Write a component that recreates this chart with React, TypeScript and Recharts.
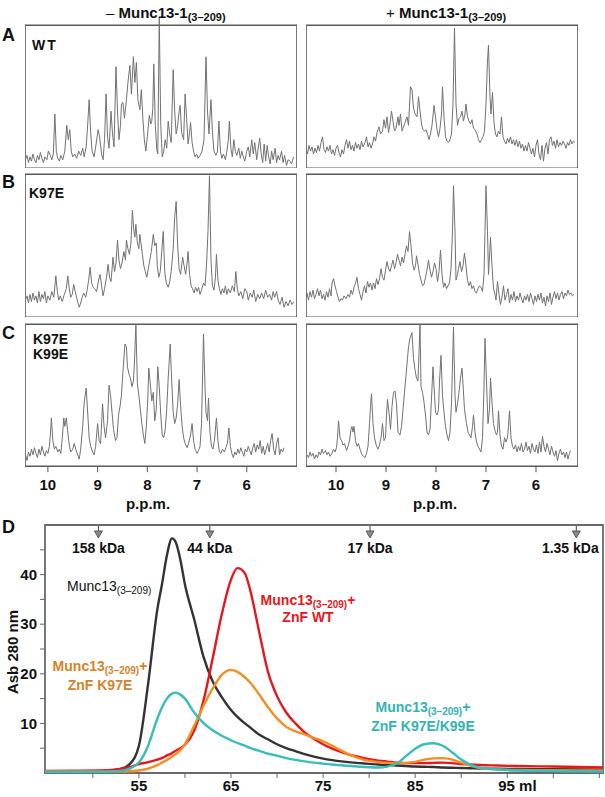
import React from "react";
import { LineChart, Line, XAxis, YAxis, ReferenceArea, ReferenceDot } from "recharts";

const FONT = '"Liberation Sans", Arial, Helvetica, sans-serif';

// 1D 1H NMR traces, [p.p.m., intensity as % of frame height]
const wtFree: [number, number][] = [
  [10.45, 6], [10.42, 9], [10.39, 4], [10.36, 8], [10.33, 5], [10.3, 10], [10.27, 6], [10.24, 4], [10.21, 9], [10.18, 6],
  [10.15, 11], [10.12, 7], [10.09, 4], [10.06, 8], [10.02, 6], [9.99, 12], [9.95, 9], [9.92, 6], [9.89, 10], [9.86, 38],
  [9.83, 12], [9.8, 7], [9.77, 5], [9.74, 9], [9.7, 6], [9.66, 12], [9.62, 30], [9.59, 20], [9.56, 27], [9.53, 12],
  [9.5, 8], [9.46, 10], [9.42, 7], [9.38, 12], [9.34, 9], [9.3, 14], [9.27, 8], [9.23, 15], [9.2, 30], [9.17, 48],
  [9.14, 25], [9.11, 12], [9.07, 8], [9.03, 17], [8.99, 27], [8.96, 22], [8.92, 10], [8.89, 6], [8.86, 20], [8.83, 52],
  [8.8, 22], [8.77, 14], [8.73, 40], [8.7, 24], [8.67, 15], [8.63, 71], [8.6, 40], [8.57, 20], [8.54, 30], [8.52, 45],
  [8.49, 46], [8.46, 35], [8.42, 48], [8.39, 60], [8.35, 72], [8.32, 52], [8.28, 78], [8.25, 60], [8.22, 74], [8.19, 48],
  [8.15, 41], [8.12, 55], [8.09, 35], [8.06, 20], [8.03, 12], [8.0, 22], [7.96, 37], [7.93, 31], [7.91, 33], [7.89, 42],
  [7.87, 73], [7.84, 30], [7.81, 13], [7.79, 10], [7.76, 105], [7.73, 30], [7.7, 8], [7.67, 12], [7.64, 20], [7.61, 14],
  [7.58, 33], [7.55, 24], [7.52, 18], [7.48, 69], [7.45, 40], [7.42, 24], [7.39, 30], [7.36, 40], [7.34, 44], [7.31, 25],
  [7.27, 20], [7.24, 52], [7.21, 35], [7.18, 17], [7.15, 25], [7.13, 32], [7.1, 18], [7.07, 12], [7.04, 8], [7.01, 10],
  [6.98, 7], [6.94, 9], [6.9, 12], [6.86, 20], [6.82, 78], [6.79, 40], [6.76, 24], [6.72, 48], [6.69, 25], [6.66, 12],
  [6.62, 9], [6.59, 12], [6.56, 33], [6.53, 12], [6.5, 7], [6.47, 10], [6.43, 6], [6.4, 12], [6.37, 20], [6.35, 33],
  [6.32, 14], [6.29, 8], [6.26, 20], [6.23, 12], [6.2, 9], [6.16, 14], [6.13, 7], [6.1, 12], [6.07, 8], [6.04, 5],
  [6.0, 12], [5.97, 15], [5.94, 8], [5.9, 20], [5.87, 10], [5.84, 18], [5.8, 6], [5.77, 14], [5.74, 21], [5.71, 10],
  [5.68, 4], [5.65, 17], [5.62, 5], [5.59, 16], [5.56, 8], [5.53, 3], [5.5, 12], [5.47, 6], [5.43, 14], [5.4, 4],
  [5.37, 9], [5.34, 6], [5.3, 12], [5.27, 4], [5.24, 9], [5.2, 2], [5.17, 6], [5.13, 5], [5.1, 3], [5.06, 8],
];

const wtBound: [number, number][] = [
  [10.6, 14], [10.57, 10], [10.54, 16], [10.51, 12], [10.48, 15], [10.45, 10], [10.42, 14], [10.39, 11], [10.36, 16], [10.33, 12],
  [10.3, 18], [10.27, 22], [10.24, 13], [10.21, 11], [10.18, 15], [10.15, 12], [10.12, 16], [10.09, 10], [10.06, 13], [10.03, 9],
  [10.0, 14], [9.97, 16], [9.94, 11], [9.91, 8], [9.88, 13], [9.85, 10], [9.82, 16], [9.79, 20], [9.76, 14], [9.73, 19],
  [9.7, 13], [9.67, 16], [9.64, 12], [9.61, 18], [9.58, 14], [9.55, 17], [9.52, 13], [9.49, 19], [9.46, 15], [9.42, 18],
  [9.39, 22], [9.36, 15], [9.33, 18], [9.3, 14], [9.27, 17], [9.24, 22], [9.21, 19], [9.18, 25], [9.14, 29], [9.11, 24],
  [9.07, 26], [9.04, 34], [9.01, 28], [8.98, 36], [8.95, 25], [8.92, 31], [8.89, 40], [8.86, 33], [8.83, 26], [8.8, 28],
  [8.76, 36], [8.74, 30], [8.71, 38], [8.68, 26], [8.62, 32], [8.58, 36], [8.55, 30], [8.51, 57], [8.48, 55], [8.45, 42],
  [8.42, 38], [8.38, 36], [8.35, 50], [8.32, 40], [8.29, 31], [8.26, 27], [8.23, 26], [8.2, 27], [8.17, 24], [8.14, 20],
  [8.11, 24], [8.08, 30], [8.04, 44], [8.01, 36], [7.98, 27], [7.95, 22], [7.92, 28], [7.89, 38], [7.87, 57], [7.84, 36],
  [7.81, 22], [7.78, 19], [7.75, 18], [7.72, 20], [7.69, 24], [7.66, 45], [7.63, 98], [7.6, 45], [7.57, 30], [7.54, 35],
  [7.51, 36], [7.48, 40], [7.45, 33], [7.42, 38], [7.4, 45], [7.37, 36], [7.34, 33], [7.31, 31], [7.28, 34], [7.25, 28],
  [7.22, 27], [7.18, 24], [7.15, 20], [7.12, 18], [7.09, 20], [7.06, 22], [7.03, 26], [7.0, 45], [6.97, 75], [6.95, 86],
  [6.92, 50], [6.9, 38], [6.87, 53], [6.84, 32], [6.81, 24], [6.78, 22], [6.75, 26], [6.72, 24], [6.69, 36], [6.66, 22],
  [6.63, 19], [6.6, 17], [6.57, 21], [6.54, 18], [6.51, 22], [6.48, 17], [6.45, 20], [6.42, 16], [6.39, 20], [6.36, 15],
  [6.33, 19], [6.3, 14], [6.27, 17], [6.24, 12], [6.21, 16], [6.18, 12], [6.15, 18], [6.12, 14], [6.09, 10], [6.06, 14],
  [6.03, 8], [6.0, 16], [5.97, 20], [5.94, 10], [5.91, 6], [5.88, 16], [5.85, 5], [5.82, 14], [5.79, 18], [5.76, 10],
  [5.73, 20], [5.7, 22], [5.67, 16], [5.64, 19], [5.61, 14], [5.58, 20], [5.55, 15], [5.52, 18], [5.49, 16], [5.46, 19],
  [5.43, 17], [5.4, 14], [5.37, 18], [5.34, 16], [5.31, 20], [5.28, 17], [5.25, 19], [5.22, 18],
];

const k97eFree: [number, number][] = [
  [10.45, 12], [10.42, 15], [10.39, 10], [10.36, 16], [10.33, 11], [10.3, 17], [10.27, 12], [10.24, 15], [10.21, 10], [10.18, 18],
  [10.15, 11], [10.12, 16], [10.09, 13], [10.06, 18], [10.03, 10], [10.0, 15], [9.96, 12], [9.92, 18], [9.88, 14], [9.84, 29],
  [9.81, 18], [9.78, 12], [9.75, 15], [9.71, 11], [9.67, 16], [9.63, 20], [9.6, 29], [9.57, 20], [9.54, 14], [9.51, 16],
  [9.48, 23], [9.45, 18], [9.41, 12], [9.37, 7], [9.34, 10], [9.31, 14], [9.28, 17], [9.24, 14], [9.21, 19], [9.18, 26],
  [9.15, 35], [9.12, 24], [9.09, 21], [9.06, 20], [9.02, 18], [8.98, 26], [8.95, 30], [8.92, 22], [8.89, 15], [8.86, 20],
  [8.82, 28], [8.79, 37], [8.76, 28], [8.73, 25], [8.69, 42], [8.66, 32], [8.63, 38], [8.6, 54], [8.57, 40], [8.54, 34],
  [8.51, 38], [8.47, 46], [8.44, 40], [8.42, 54], [8.39, 48], [8.36, 44], [8.33, 52], [8.3, 75], [8.27, 60], [8.25, 56],
  [8.23, 65], [8.2, 52], [8.17, 48], [8.15, 58], [8.12, 50], [8.1, 44], [8.07, 36], [8.04, 32], [8.01, 28], [7.98, 34],
  [7.95, 40], [7.92, 46], [7.88, 58], [7.85, 50], [7.82, 52], [7.8, 36], [7.77, 28], [7.74, 32], [7.71, 46], [7.68, 60],
  [7.65, 32], [7.62, 24], [7.58, 21], [7.55, 25], [7.52, 32], [7.48, 48], [7.45, 70], [7.42, 81], [7.39, 50], [7.36, 34],
  [7.33, 30], [7.29, 42], [7.26, 36], [7.23, 30], [7.2, 38], [7.18, 46], [7.15, 30], [7.12, 22], [7.09, 20], [7.06, 17],
  [7.03, 21], [7.0, 18], [6.97, 21], [6.94, 16], [6.91, 19], [6.87, 24], [6.84, 22], [6.81, 36], [6.78, 60], [6.75, 99],
  [6.72, 40], [6.69, 22], [6.66, 19], [6.63, 28], [6.61, 44], [6.58, 26], [6.55, 20], [6.52, 16], [6.49, 20], [6.46, 17],
  [6.43, 22], [6.4, 16], [6.37, 20], [6.33, 17], [6.29, 22], [6.25, 18], [6.22, 32], [6.19, 20], [6.16, 15], [6.12, 18],
  [6.08, 13], [6.04, 20], [6.0, 18], [5.97, 12], [5.93, 17], [5.89, 14], [5.86, 19], [5.82, 11], [5.78, 16], [5.74, 13],
  [5.7, 17], [5.66, 13], [5.62, 19], [5.58, 14], [5.54, 16], [5.5, 12], [5.47, 18], [5.44, 14], [5.4, 18], [5.37, 12],
  [5.33, 9], [5.29, 14], [5.25, 7], [5.21, 11], [5.17, 8], [5.13, 12], [5.09, 9], [5.05, 11],
];

const k97eBound: [number, number][] = [
  [10.6, 13], [10.58, 17], [10.55, 12], [10.52, 18], [10.49, 14], [10.46, 19], [10.43, 13], [10.4, 16], [10.37, 20], [10.34, 15],
  [10.31, 19], [10.28, 13], [10.25, 16], [10.22, 12], [10.19, 18], [10.16, 14], [10.13, 20], [10.1, 15], [10.08, 24], [10.05, 27],
  [10.02, 22], [9.99, 18], [9.96, 14], [9.93, 11], [9.9, 13], [9.87, 12], [9.84, 15], [9.8, 13], [9.76, 16], [9.73, 14],
  [9.7, 19], [9.67, 16], [9.64, 21], [9.61, 24], [9.58, 28], [9.55, 20], [9.52, 16], [9.49, 12], [9.46, 18], [9.43, 22],
  [9.4, 17], [9.37, 25], [9.34, 21], [9.31, 24], [9.28, 19], [9.25, 24], [9.22, 20], [9.19, 27], [9.16, 23], [9.13, 27],
  [9.1, 34], [9.07, 28], [9.04, 26], [9.01, 33], [8.98, 39], [8.95, 34], [8.92, 32], [8.89, 36], [8.86, 40], [8.83, 34],
  [8.8, 38], [8.77, 44], [8.74, 40], [8.71, 36], [8.68, 42], [8.65, 38], [8.62, 44], [8.59, 50], [8.56, 46], [8.53, 60],
  [8.5, 50], [8.47, 38], [8.44, 33], [8.41, 36], [8.39, 43], [8.36, 37], [8.33, 30], [8.3, 26], [8.27, 22], [8.24, 23],
  [8.21, 28], [8.18, 33], [8.15, 40], [8.12, 33], [8.09, 28], [8.06, 32], [8.03, 38], [8.0, 34], [7.97, 25], [7.94, 32],
  [7.91, 47], [7.88, 30], [7.85, 21], [7.82, 24], [7.79, 20], [7.76, 22], [7.73, 24], [7.7, 34], [7.67, 60], [7.65, 92],
  [7.62, 60], [7.6, 26], [7.57, 30], [7.55, 34], [7.52, 39], [7.49, 32], [7.46, 36], [7.43, 45], [7.4, 36], [7.37, 26],
  [7.34, 22], [7.31, 25], [7.28, 20], [7.25, 22], [7.22, 18], [7.19, 17], [7.16, 20], [7.13, 22], [7.1, 21], [7.07, 18],
  [7.04, 30], [7.02, 60], [7.0, 92], [6.97, 60], [6.95, 30], [6.93, 42], [6.91, 56], [6.88, 36], [6.85, 20], [6.82, 16],
  [6.8, 12], [6.77, 25], [6.74, 16], [6.71, 9], [6.68, 14], [6.65, 22], [6.62, 12], [6.59, 16], [6.56, 20], [6.53, 10],
  [6.5, 16], [6.47, 12], [6.44, 18], [6.41, 11], [6.38, 15], [6.35, 12], [6.32, 17], [6.29, 13], [6.26, 10], [6.23, 15],
  [6.2, 12], [6.17, 16], [6.14, 11], [6.11, 17], [6.08, 13], [6.05, 9], [6.02, 15], [5.99, 11], [5.96, 16], [5.93, 12],
  [5.9, 17], [5.87, 10], [5.84, 14], [5.81, 8], [5.78, 15], [5.75, 11], [5.72, 17], [5.69, 9], [5.66, 14], [5.63, 18],
  [5.6, 13], [5.57, 17], [5.54, 12], [5.51, 16], [5.48, 18], [5.45, 13], [5.42, 17], [5.39, 15], [5.36, 19], [5.33, 16],
  [5.3, 17], [5.27, 15], [5.24, 16],
];

const k97ek99eFree: [number, number][] = [
  [10.45, 8], [10.42, 4], [10.39, 10], [10.36, 7], [10.33, 12], [10.3, 8], [10.27, 13], [10.24, 9], [10.21, 6], [10.18, 12],
  [10.15, 8], [10.12, 14], [10.09, 10], [10.06, 7], [10.03, 11], [10.0, 9], [9.97, 14], [9.95, 22], [9.93, 34], [9.9, 18],
  [9.87, 12], [9.84, 14], [9.8, 10], [9.77, 12], [9.74, 9], [9.71, 20], [9.68, 34], [9.66, 28], [9.63, 34], [9.6, 24],
  [9.57, 15], [9.54, 10], [9.5, 12], [9.47, 16], [9.44, 12], [9.4, 8], [9.37, 5], [9.34, 12], [9.3, 28], [9.27, 45],
  [9.23, 55], [9.2, 38], [9.17, 20], [9.14, 14], [9.1, 10], [9.07, 8], [9.04, 14], [9.0, 30], [8.97, 18], [8.94, 16],
  [8.9, 44], [8.87, 28], [8.84, 20], [8.8, 32], [8.77, 57], [8.74, 50], [8.71, 38], [8.68, 26], [8.64, 18], [8.61, 20],
  [8.58, 36], [8.55, 42], [8.52, 50], [8.49, 67], [8.45, 86], [8.42, 84], [8.4, 70], [8.37, 65], [8.34, 62], [8.31, 56],
  [8.28, 60], [8.26, 72], [8.23, 100], [8.2, 58], [8.17, 50], [8.14, 40], [8.11, 30], [8.08, 22], [8.05, 16], [8.02, 28],
  [7.99, 48], [7.97, 69], [7.94, 58], [7.91, 46], [7.88, 52], [7.85, 32], [7.82, 40], [7.79, 70], [7.76, 56], [7.73, 36],
  [7.7, 22], [7.67, 20], [7.64, 26], [7.61, 40], [7.58, 62], [7.54, 86], [7.51, 60], [7.48, 38], [7.45, 30], [7.42, 34],
  [7.39, 44], [7.36, 61], [7.33, 42], [7.3, 28], [7.27, 20], [7.24, 16], [7.2, 13], [7.17, 16], [7.13, 22], [7.1, 30],
  [7.07, 18], [7.04, 12], [7.0, 9], [6.97, 11], [6.94, 14], [6.91, 30], [6.89, 62], [6.87, 93], [6.84, 56], [6.82, 38],
  [6.79, 32], [6.77, 48], [6.74, 24], [6.71, 14], [6.68, 12], [6.65, 18], [6.61, 34], [6.58, 18], [6.55, 10], [6.52, 9],
  [6.49, 12], [6.45, 10], [6.42, 13], [6.39, 16], [6.36, 27], [6.33, 14], [6.3, 9], [6.27, 6], [6.24, 10], [6.21, 8],
  [6.18, 12], [6.15, 9], [6.12, 13], [6.09, 10], [6.06, 7], [6.03, 12], [6.0, 10], [5.97, 14], [5.94, 11], [5.91, 8],
  [5.88, 13], [5.85, 16], [5.82, 10], [5.79, 15], [5.76, 12], [5.73, 18], [5.7, 9], [5.67, 14], [5.64, 8], [5.61, 12],
  [5.58, 16], [5.55, 10], [5.52, 18], [5.49, 23], [5.46, 12], [5.43, 8], [5.4, 16], [5.37, 20], [5.34, 8], [5.31, 12],
  [5.28, 10], [5.25, 13],
];

const k97ek99eBound: [number, number][] = [
  [10.58, 8], [10.55, 6], [10.52, 10], [10.49, 7], [10.46, 9], [10.43, 5], [10.4, 8], [10.37, 6], [10.34, 10], [10.31, 8],
  [10.28, 12], [10.25, 9], [10.21, 11], [10.18, 8], [10.15, 10], [10.12, 7], [10.08, 9], [10.05, 12], [10.02, 10], [9.99, 13],
  [9.97, 20], [9.95, 32], [9.92, 20], [9.89, 18], [9.86, 15], [9.83, 16], [9.79, 11], [9.76, 14], [9.73, 18], [9.7, 26],
  [9.68, 28], [9.66, 24], [9.64, 28], [9.61, 18], [9.58, 14], [9.55, 16], [9.52, 12], [9.48, 8], [9.45, 7], [9.42, 6],
  [9.39, 9], [9.36, 14], [9.33, 30], [9.31, 42], [9.29, 51], [9.26, 30], [9.23, 20], [9.19, 14], [9.16, 12], [9.13, 15],
  [9.1, 20], [9.07, 30], [9.04, 18], [9.01, 20], [8.99, 36], [8.97, 47], [8.94, 38], [8.91, 26], [8.88, 42], [8.85, 52],
  [8.82, 53], [8.79, 44], [8.76, 24], [8.72, 22], [8.69, 28], [8.66, 40], [8.63, 52], [8.6, 64], [8.57, 76], [8.55, 84],
  [8.52, 90], [8.48, 94], [8.45, 76], [8.42, 68], [8.39, 62], [8.36, 60], [8.34, 80], [8.32, 100], [8.3, 56], [8.27, 52],
  [8.24, 45], [8.21, 36], [8.18, 24], [8.15, 22], [8.12, 26], [8.09, 48], [8.06, 70], [8.03, 50], [8.01, 38], [7.98, 36],
  [7.95, 40], [7.93, 60], [7.9, 78], [7.87, 50], [7.84, 38], [7.81, 28], [7.78, 22], [7.75, 18], [7.72, 24], [7.69, 44],
  [7.65, 98], [7.62, 50], [7.6, 38], [7.57, 44], [7.54, 52], [7.51, 62], [7.48, 69], [7.46, 58], [7.43, 40], [7.39, 30],
  [7.36, 24], [7.33, 22], [7.3, 20], [7.27, 28], [7.25, 36], [7.22, 24], [7.19, 17], [7.16, 14], [7.13, 12], [7.1, 10],
  [7.07, 20], [7.04, 55], [7.02, 90], [6.99, 60], [6.96, 30], [6.93, 40], [6.91, 62], [6.88, 45], [6.85, 30], [6.82, 25],
  [6.79, 22], [6.77, 24], [6.75, 39], [6.72, 22], [6.69, 14], [6.66, 12], [6.63, 20], [6.6, 17], [6.57, 20], [6.55, 28],
  [6.53, 39], [6.5, 20], [6.47, 14], [6.44, 12], [6.41, 15], [6.38, 10], [6.35, 14], [6.32, 11], [6.29, 16], [6.26, 10],
  [6.23, 12], [6.2, 17], [6.17, 11], [6.14, 14], [6.11, 9], [6.08, 16], [6.05, 12], [6.02, 10], [5.99, 15], [5.96, 9],
  [5.93, 17], [5.9, 10], [5.87, 21], [5.84, 14], [5.81, 10], [5.78, 16], [5.75, 12], [5.72, 8], [5.69, 14], [5.66, 10],
  [5.63, 7], [5.6, 11], [5.57, 4], [5.54, 9], [5.51, 12], [5.48, 8], [5.45, 10], [5.42, 6], [5.39, 10], [5.36, 5],
  [5.33, 9], [5.31, 11],
];

const ppmTicks = [10, 9, 8, 7, 6];

// gel filtration (elution volume in ml, A280)
const elutionMl = [44.8, 48, 51, 53, 54, 55, 56, 57, 57.5, 58, 58.6, 59, 59.5, 60, 61, 62, 63, 64, 65, 65.7, 66.5, 67, 68, 69, 70,
  71, 72, 73, 74, 75, 76, 77, 78, 79, 80, 81, 82, 83, 84, 85, 86, 87, 88, 89, 90, 91, 92, 94, 96, 100, 105.4];
const absMunc = [0.3, 0.3, 0.4, 0.8, 1.8, 5.5, 18, 33, 38, 43.5, 47.3, 46.5, 43, 38, 31, 23.5, 18.5, 15.3, 12.7, 11.3, 10, 9.3, 7.8, 6.8, 5.8,
  5.0, 4.4, 3.8, 3.3, 2.9, 2.6, 2.35, 2.15, 2.0, 1.85, 1.7, 1.6, 1.5, 1.4, 1.3, 1.25, 1.2, 1.1, 1.05, 1.0, 0.95, 0.9, 0.85, 0.8, 0.75, 0.65];
const absWT = [0.4, 0.45, 0.5, 0.8, 1.2, 1.8, 2.2, 2.7, 3.0, 3.5, 4.0, 4.5, 5.0, 5.7, 8.5, 14.5, 23, 32, 39, 41.3, 40.3, 37.5, 29, 20.5, 15.5,
  12.2, 10, 8.2, 6.9, 5.8, 4.9, 4.2, 3.6, 3.2, 2.8, 2.5, 2.3, 2.1, 2.0, 2.0, 2.0, 2.05, 2.1, 2.0, 1.8, 1.7, 1.6, 1.5, 1.4, 1.3, 1.1];
const absK97E = [0.3, 0.3, 0.3, 0.3, 0.35, 0.5, 0.9, 1.6, 2.1, 2.6, 3.3, 3.8, 4.6, 5.8, 9.5, 13.5, 17, 19.8, 20.8, 20.4, 19.3, 18.4, 16, 13.3, 11,
  9.3, 8.4, 7.8, 7.1, 6.4, 5.5, 4.5, 3.6, 2.9, 2.45, 2.2, 2.05, 2.0, 2.05, 2.25, 2.7, 2.95, 3.0, 2.7, 2.1, 1.5, 1.0, 0.7, 0.6, 0.55, 0.5];
const absK97EK99E = [0.2, 0.2, 0.2, 0.4, 0.9, 2.1, 5.5, 11, 13.2, 14.9, 16, 16.2, 15.8, 15, 12.2, 10.1, 8.6, 7.5, 6.6, 6.05, 5.5, 5.1, 4.5, 3.9, 3.5,
  3.0, 2.65, 2.35, 2.1, 1.9, 1.7, 1.55, 1.4, 1.25, 1.15, 1.1, 1.3, 1.9, 3.4, 4.9, 5.8, 6.0, 5.5, 4.2, 2.7, 1.7, 1.1, 0.7, 0.5, 0.4, 0.3];

const markerMl = [50.6, 62.7, 80.1, 102.5];
const markerLabels = ["158 kDa", "44 kDa", "17 kDa", "1.35 kDa"];
const mlTicks = [50, 55, 60, 65, 70, 75, 80, 85, 90, 95, 100, 105];
const mlLabelled = [55, 65, 75, 85, 95];
const absTicks = [5, 10, 15, 20, 25, 30, 35, 40, 45];
const absLabelled = [10, 20, 30, 40];

const gfRows = elutionMl.map((ml, i) => ({
  ml,
  munc: absMunc[i],
  wt: absWT[i],
  k97e: absK97E[i],
  k97ek99e: absK97EK99E[i],
}));

const bold: React.CSSProperties = { fontFamily: FONT, fontWeight: 700, color: "#111", position: "absolute", whiteSpace: "nowrap" };

const Sub = ({ children, size = 10 }: { children: React.ReactNode; size?: number }) => (
  <span style={{ fontSize: size, verticalAlign: -3, lineHeight: 0 }}>{children}</span>
);

type SpecProps = {
  pts: [number, number][];
  left: number;
  top: number;
  width: number;
  height: number;
  ppmHi: number;
  ppmLo: number;
  axis?: boolean;
};

const Spectrum: React.FC<SpecProps> = ({ pts, left, top, width, height, ppmHi, ppmLo, axis }) => {
  const data = pts.map(([ppm, v]) => ({ ppm, v }));
  const head = height * 0.1; // peaks may run past the frame
  const axisH = axis ? 30 : 0;
  return (
    <div style={{ position: "absolute", left, top: top - head }}>
      <LineChart width={width} height={height + head + axisH} data={data} margin={{ top: 0, right: 0, bottom: 0, left: 0 }}>
        <XAxis
          dataKey="ppm"
          type="number"
          domain={[ppmLo, ppmHi]}
          reversed
          allowDataOverflow
          hide={!axis}
          ticks={ppmTicks}
          height={axisH}
          axisLine={false}
          tickSize={6}
          tickMargin={7}
          stroke="#555"
          tick={{ fill: "#111", fontSize: 15, fontWeight: 700, fontFamily: FONT }}
        />
        <YAxis type="number" domain={[0, 110]} hide width={0} />
        <ReferenceArea x1={ppmLo} x2={ppmHi} y1={0} y2={100} fill="none" stroke="#5a5a5a" strokeWidth={1.6} />
        <Line dataKey="v" type="linear" stroke="#717171" strokeWidth={1} dot={false} isAnimationActive={false} />
      </LineChart>
    </div>
  );
};

const MlTick = ({ x, y, payload }: any) => {
  const v = payload.value;
  if (!mlLabelled.includes(v)) return <g />;
  const isLast = v === 95;
  return (
    <text x={isLast ? x - 9 : x} y={y} dy="0.71em" textAnchor={isLast ? "start" : "middle"} fill="#111" fontSize={15} fontWeight={700} fontFamily={FONT}>
      {isLast ? `${v} ml` : v}
    </text>
  );
};

const AbsTick = ({ x, y, payload }: any) => {
  const v = payload.value;
  if (!absLabelled.includes(v)) return <g />;
  return (
    <text x={x} y={y} dy="0.35em" textAnchor="end" fill="#111" fontSize={15} fontWeight={700} fontFamily={FONT}>
      {v}
    </text>
  );
};

const KdaMarker = ({ cx, cy, text, shift = 0 }: any) => (
  <g>
    <line x1={cx} y1={cy - 6} x2={cx} y2={cy - 1} stroke="#444" strokeWidth={1} />
    <path d={`M${cx - 4},${cy - 1} L${cx + 4},${cy - 1} L${cx},${cy + 6} Z`} fill="#8a8a8a" stroke="#444" strokeWidth={0.8} />
    <text x={cx + shift} y={cy + 21} textAnchor="middle" fill="#111" fontSize={14} fontWeight={700} fontFamily={FONT}>
      {text}
    </text>
  </g>
);

const GelFiltration = () => (
  <div style={{ position: "absolute", left: 0, top: 512 }}>
    <LineChart width={605} height={285} data={gfRows} margin={{ top: 13, right: 2, bottom: 0, left: 0 }}>
      <XAxis
        dataKey="ml"
        type="number"
        domain={[44.8, 105.4]}
        ticks={mlTicks}
        height={24}
        axisLine={false}
        tickSize={5}
        tickMargin={2}
        stroke="#666"
        tick={<MlTick />}
      />
      <YAxis
        type="number"
        domain={[0, 50]}
        ticks={absTicks}
        width={45}
        axisLine={false}
        tickSize={5}
        tickMargin={3}
        stroke="#666"
        tick={<AbsTick />}
      />
      <ReferenceArea x1={44.8} x2={105.4} y1={0} y2={50} fill="none" stroke="#6a6a6a" strokeWidth={1.8} />
      <Line dataKey="munc" type="monotone" stroke="#333333" strokeWidth={2.4} dot={false} isAnimationActive={false} />
      <Line dataKey="wt" type="monotone" stroke="#e8161d" strokeWidth={2.4} dot={false} isAnimationActive={false} />
      <Line dataKey="k97e" type="monotone" stroke="#f28e23" strokeWidth={2.4} dot={false} isAnimationActive={false} />
      <Line dataKey="k97ek99e" type="monotone" stroke="#38bcbc" strokeWidth={2.4} dot={false} isAnimationActive={false} />
      {markerMl.map((m, i) => (
        <ReferenceDot
          key={markerLabels[i]}
          x={m}
          y={48.6}
          r={0}
          ifOverflow="visible"
          shape={(p: any) => <KdaMarker cx={p.cx} cy={p.cy} text={markerLabels[i]} shift={i === 3 ? -6 : 0} />}
        />
      ))}
    </LineChart>
  </div>
);

const Munc = ({ color, plus = true, weight = 700 }: { color: string; plus?: boolean; weight?: number }) => (
  <span style={{ color, fontWeight: weight }}>
    Munc13<Sub>(3–209)</Sub>
    {plus ? "+" : ""}
  </span>
);

export default function App() {
  const panelH = 143;
  return (
    <div style={{ position: "absolute", left: 0, top: 0, width: 605, height: 797, background: "#fff", fontFamily: FONT, overflow: "hidden" }}>
      {/* column headers */}
      <div style={{ ...bold, left: 106, top: 4, fontSize: 15 }}>
        <span style={{ fontWeight: 400 }}>– </span>Munc13-1<Sub size={11}>(3–209)</Sub>
      </div>
      <div style={{ ...bold, left: 386, top: 4, fontSize: 15 }}>
        <span style={{ fontWeight: 400 }}>+ </span>Munc13-1<Sub size={11}>(3–209)</Sub>
      </div>

      {/* panel letters */}
      <div style={{ ...bold, left: 2, top: 25, fontSize: 18 }}>A</div>
      <div style={{ ...bold, left: 2, top: 172, fontSize: 18 }}>B</div>
      <div style={{ ...bold, left: 2, top: 323, fontSize: 18 }}>C</div>
      <div style={{ ...bold, left: 2, top: 517, fontSize: 18 }}>D</div>

      <Spectrum pts={wtFree} left={25} top={25} width={272} height={panelH} ppmHi={10.46} ppmLo={4.99} />
      <Spectrum pts={wtBound} left={306} top={25} width={272} height={panelH} ppmHi={10.6} ppmLo={5.16} />
      <Spectrum pts={k97eFree} left={25} top={174} width={272} height={panelH} ppmHi={10.46} ppmLo={4.99} />
      <Spectrum pts={k97eBound} left={306} top={174} width={272} height={panelH} ppmHi={10.6} ppmLo={5.16} />
      <Spectrum pts={k97ek99eFree} left={25} top={324} width={272} height={142} ppmHi={10.46} ppmLo={4.99} axis />
      <Spectrum pts={k97ek99eBound} left={306} top={324} width={272} height={142} ppmHi={10.6} ppmLo={5.16} axis />

      {/* ppm axis titles */}
      <div style={{ ...bold, left: 148, top: 495, fontSize: 15, transform: "translateX(-50%)" }}>p.p.m.</div>
      <div style={{ ...bold, left: 435, top: 495, fontSize: 15, transform: "translateX(-50%)" }}>p.p.m.</div>

      {/* in-panel labels */}
      <div style={{ ...bold, left: 32, top: 37, fontSize: 14, letterSpacing: 2 }}>WT</div>
      <div style={{ ...bold, left: 29, top: 185, fontSize: 14 }}>K97E</div>
      <div style={{ ...bold, left: 33, top: 332, fontSize: 14, lineHeight: "15px" }}>
        K97E
        <br />
        K99E
      </div>

      <GelFiltration />

      {/* gel filtration labels */}
      <div style={{ ...bold, left: 12, top: 652, fontSize: 15, transform: "translate(-50%, -50%) rotate(-90deg)" }}>
        Asb 280 nm
      </div>
      <div style={{ ...bold, left: 67, top: 578, fontSize: 14, fontWeight: 400 }}>
        <Munc color="#111" plus={false} weight={400} />
      </div>
      <div style={{ ...bold, left: 308, top: 592, fontSize: 14, color: "#e8161d", textAlign: "center", lineHeight: "17px", transform: "translateX(-50%)" }}>
        <Munc color="#e8161d" />
        <br />
        ZnF WT
      </div>
      <div style={{ ...bold, left: 100, top: 657, fontSize: 14, color: "#d5832a", textAlign: "center", lineHeight: "19px", transform: "translateX(-50%)" }}>
        <Munc color="#d5832a" />
        <br />
        ZnF K97E
      </div>
      <div style={{ ...bold, left: 423, top: 698, fontSize: 14, color: "#35b3b3", textAlign: "center", lineHeight: "19px", transform: "translateX(-50%)" }}>
        <Munc color="#35b3b3" />
        <br />
        ZnF K97E/K99E
      </div>
    </div>
  );
}
